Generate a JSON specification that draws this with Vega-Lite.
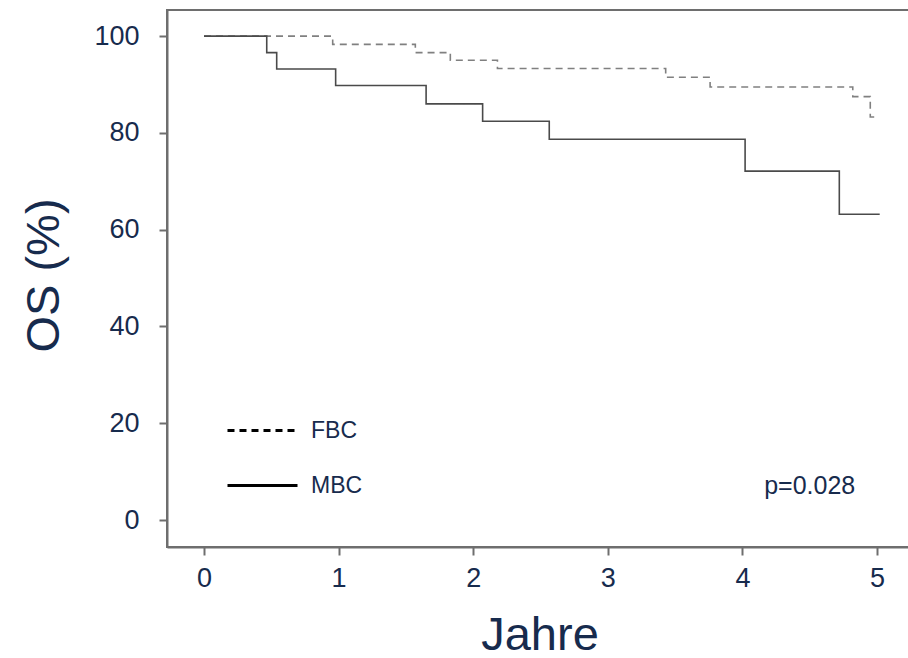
{
  "$schema": "https://vega.github.io/schema/vega-lite/v6.json",
  "autosize": "none",
  "width": 745,
  "height": 537,
  "padding": {"left": 167, "top": 10, "right": 0, "bottom": 111},
  "background": "white",
  "config": {
    "font": "Liberation Sans",
    "view": {"stroke": "#6e6e6e", "strokeWidth": 2},
    "axis": {
      "grid": false,
      "domainColor": "#6e6e6e",
      "domainWidth": 2,
      "tickColor": "#6e6e6e",
      "tickWidth": 2,
      "tickSize": 8,
      "labelFont": "Liberation Sans",
      "labelFontSize": 27,
      "labelColor": "#172b4d",
      "titleFont": "Liberation Sans",
      "titleFontSize": 47,
      "titleFontWeight": "normal",
      "titleColor": "#172b4d"
    }
  },
  "datasets": {
    "km": [
      {"series": "FBC", "t": 0, "S": 100},
      {"series": "FBC", "t": 0.956, "S": 98.3},
      {"series": "FBC", "t": 1.57, "S": 96.6},
      {"series": "FBC", "t": 1.83, "S": 95.0},
      {"series": "FBC", "t": 2.18, "S": 93.3},
      {"series": "FBC", "t": 3.43, "S": 91.5},
      {"series": "FBC", "t": 3.76, "S": 89.5},
      {"series": "FBC", "t": 4.82, "S": 87.5},
      {"series": "FBC", "t": 4.95, "S": 83.3},
      {"series": "FBC", "t": 5.0, "S": 83.3},
      {"series": "MBC", "t": 0, "S": 100},
      {"series": "MBC", "t": 0.466, "S": 96.6},
      {"series": "MBC", "t": 0.54, "S": 93.2},
      {"series": "MBC", "t": 0.978, "S": 89.8},
      {"series": "MBC", "t": 1.65, "S": 86.0},
      {"series": "MBC", "t": 2.07, "S": 82.4},
      {"series": "MBC", "t": 2.565, "S": 78.7},
      {"series": "MBC", "t": 4.02, "S": 72.1},
      {"series": "MBC", "t": 4.72, "S": 63.2},
      {"series": "MBC", "t": 5.02, "S": 63.2}
    ],
    "note": [
      {"label": "p=0.028", "t": 4.5, "S": 7.0}
    ]
  },
  "layer": [
    {
      "data": {"name": "km"},
      "mark": {"type": "line", "interpolate": "step-after", "strokeWidth": 1.6},
      "encoding": {
        "x": {
          "field": "t", "type": "quantitative",
          "scale": {"domain": [-0.275, 5.26], "nice": false, "zero": false},
          "axis": {"values": [0, 1, 2, 3, 4, 5], "format": "d", "title": "Jahre", "labelPadding": 10, "titleY": 102, "titleBaseline": "alphabetic"}
        },
        "y": {
          "field": "S", "type": "quantitative",
          "scale": {"domain": [-5.58, 105.4], "nice": false, "zero": false},
          "axis": {"values": [0, 20, 40, 60, 80, 100], "format": "d", "title": "OS (%)", "labelPadding": 20, "titleX": -109, "titleY": 265, "titleAngle": -90, "titleAlign": "center", "titleBaseline": "alphabetic"}
        },
        "color": {
          "condition": {"test": "datum.series === 'FBC'", "value": "#808080"},
          "value": "#4a4a4a"
        },
        "strokeDash": {
          "field": "series", "type": "nominal",
          "scale": {"domain": ["FBC", "MBC"], "range": [[7, 5], [1, 0]]},
          "legend": {
            "title": null,
            "orient": "none",
            "legendX": 82,
            "legendY": 407,
            "padding": 0,
            "symbolType": "M-2.917,0H2.917",
            "symbolSize": 576,
            "symbolStrokeWidth": 3,
            "symbolStrokeColor": "black",
            "labelOffset": 35,
            "labelFont": "Liberation Sans",
            "labelFontSize": 23,
            "labelColor": "#172b4d",
            "rowPadding": 29,
            "encode": {
              "symbols": {
                "update": {
                  "stroke": {"value": "black"},
                  "strokeWidth": {"value": 3},
                  "strokeDash": {"signal": "datum.value === 'FBC' ? [11, 4] : [1, 0]"}
                }
              }
            }
          }
        }
      }
    },
    {
      "data": {"name": "note"},
      "mark": {"type": "text", "align": "center", "baseline": "middle", "fontSize": 25, "color": "#172b4d", "font": "Liberation Sans"},
      "encoding": {
        "x": {"field": "t", "type": "quantitative"},
        "y": {"field": "S", "type": "quantitative"},
        "text": {"field": "label"}
      }
    }
  ]
}
